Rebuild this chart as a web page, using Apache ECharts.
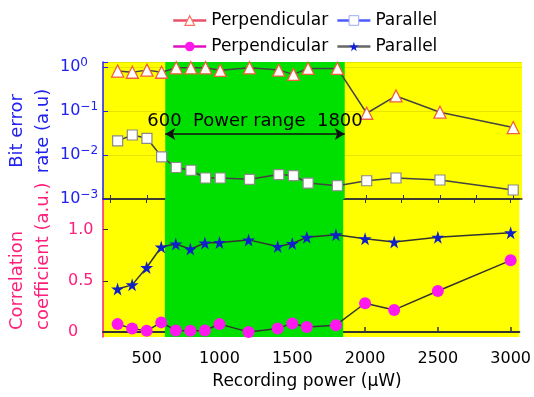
<!DOCTYPE html>
<html><head><meta charset="utf-8">
<script src="https://cdn.jsdelivr.net/npm/echarts@6/dist/echarts.min.js"></script>
<style>html,body{margin:0;padding:0;background:#fff}#c{width:534px;height:397px}</style>
</head><body><div id="c"></div>
<script>
const power = [300,400,500,600,700,800,900,1000,1200,1400,1500,1600,1800,2000,2200,2500,3000];
const berPerp = [0.81,0.76,0.85,0.76,0.96,0.96,0.96,0.84,0.96,0.85,0.68,0.93,0.93,0.089,0.22,0.094,0.042];
const berPara = [0.021,0.0285,0.024,0.0091,0.0052,0.0045,0.0030,0.0030,0.0028,0.0036,0.0034,0.0023,0.0020,0.0026,0.0030,0.0027,0.0016];
const corrPerp = [0.076,0.034,0.01,0.093,0.014,0.01,0.014,0.076,0.0,0.034,0.083,0.047,0.066,0.28,0.215,0.40,0.70];
const corrPara = [0.42,0.46,0.63,0.83,0.86,0.81,0.87,0.875,0.90,0.835,0.865,0.925,0.95,0.91,0.88,0.925,0.97];
const xTickLabels = [500,1000,1500,2000,2500,3000];
const xMinorTicks = [250,500,750,1000,1250,1500,1750,2000,2250,2500,2750,3000];
const corrTicks = [0,0.5,1.0];
const corrTickText = ['0','0.5','1.0'];
const greenRange = [625,1850];
const rangeArrowLevel = 0.03;
const rangeText = '600  Power range  1800';

const FONT = 'DejaVu Sans';
const BLUE = '#2121f0';
const PINK = '#ff1f7a';
const pairs = (xs, ys) => xs.map((x, i) => [x, ys[i]]);
const STAR = 'path://M50,0 L61,35 L98,35 L68,57 L79,91 L50,70 L21,91 L32,57 L2,35 L39,35 Z';

const chart = echarts.init(document.getElementById('c'), null, {renderer: 'canvas'});
const superDigits = e => (e < 0 ? '\u2212' + (-e) : '' + e);

chart.setOption({
  animation: false,
  backgroundColor: '#fff',
  legend: [
    {
      left: 167, top: 7, itemWidth: 33, itemHeight: 12, itemGap: 8,
      formatter: n => n.trim(),
      textStyle: {fontFamily: FONT, fontSize: 17, color: '#000'},
      data: [
        {name: 'Perpendicular', lineStyle: {color: '#e8506a', width: 2.5}, itemStyle: {color: '#fff', borderColor: '#ff7060', borderWidth: 1.2}},
        {name: 'Parallel', lineStyle: {color: '#4a5cff', width: 2.5}, itemStyle: {color: '#fff', borderColor: '#a0a8ff', borderWidth: 1}}
      ]
    },
    {
      left: 167, top: 33, itemWidth: 33, itemHeight: 12, itemGap: 8,
      formatter: n => n.trim(),
      textStyle: {fontFamily: FONT, fontSize: 17, color: '#000'},
      data: [
        {name: 'Perpendicular ', lineStyle: {color: '#e010c0', width: 2.5}, itemStyle: {color: '#ff18ee'}},
        {name: 'Parallel ', lineStyle: {color: '#666', width: 2.5}, itemStyle: {color: '#1020e0'}}
      ]
    }
  ],
  grid: [
    {left: 103, right: 12, top: 62, height: 137, show: true, backgroundColor: '#ffff00', borderWidth: 0},
    {left: 103, right: 12, top: 199, height: 138, show: true, backgroundColor: '#ffff00', borderWidth: 0}
  ],
  xAxis: [
    {gridIndex: 0, type: 'value', min: 200, max: 3060, position: 'bottom',
     axisLine: {show: true, lineStyle: {color: '#333', width: 1.5}},
     axisTick: {show: true, inside: true, length: 4, customValues: xMinorTicks, lineStyle: {color: '#333'}},
     axisLabel: {show: false}, splitLine: {show: false}},
    {gridIndex: 1, type: 'value', min: 200, max: 3060, position: 'bottom',
     axisLine: {show: true, lineStyle: {color: '#333', width: 2}},
     axisTick: {show: true, inside: true, length: 5, customValues: xTickLabels, lineStyle: {color: '#333', width: 1.5}},
     axisLabel: {show: true, customValues: xTickLabels, margin: 14, formatter: v => String(Math.round(v)),
       fontFamily: FONT, fontSize: 16, color: '#000'},
     splitLine: {show: false}},
    {gridIndex: 1, type: 'value', min: 200, max: 3060, position: 'top',
     axisLine: {show: true, lineStyle: {color: '#333', width: 1.5}},
     axisTick: {show: true, inside: true, length: 4, customValues: xMinorTicks, lineStyle: {color: '#333'}},
     axisLabel: {show: false}, splitLine: {show: false}}
  ],
  yAxis: [
    {gridIndex: 0, type: 'log', logBase: 10, min: 0.001, max: 1.3,
     axisLine: {show: true, lineStyle: {color: BLUE, width: 1.5}},
     axisTick: {show: true, inside: true, length: 5, lineStyle: {color: BLUE}},
     splitLine: {show: true, lineStyle: {color: 'rgba(150,150,0,0.25)', width: 1}},
     axisLabel: {
       align: 'left', margin: 43,
       formatter: v => {
         const l = Math.log10(v); const e = Math.round(l);
         if (Math.abs(l - e) > 1e-6) return '';
         return '{b|10}{s|' + superDigits(e) + '}';
       },
       rich: {
         b: {fontFamily: FONT, fontSize: 16, color: BLUE, lineHeight: 20},
         s: {fontFamily: FONT, fontSize: 12, color: BLUE, verticalAlign: 'top', lineHeight: 20}
       }
     }},
    {gridIndex: 1, type: 'value', min: -0.05, max: 1.3,
     axisLine: {show: true, lineStyle: {color: PINK, width: 1.5}},
     axisTick: {show: true, inside: true, length: 5, customValues: corrTicks, lineStyle: {color: '#333'}},
     splitLine: {show: false},
     axisLabel: {align: 'left', margin: 35, customValues: corrTicks,
       formatter: v => corrTickText[corrTicks.indexOf(Math.round(v * 10) / 10)] ?? '',
       fontFamily: FONT, fontSize: 16, color: PINK}}
  ],
  graphic: [
    {type: 'text', x: 30, y: 131, rotation: Math.PI / 2,
     style: {text: 'Bit error\nrate (a.u)', font: '18px "DejaVu Sans"', fill: BLUE, align: 'center', verticalAlign: 'middle', lineHeight: 26}},
    {type: 'text', x: 30, y: 330, rotation: Math.PI / 2,
     style: {text: 'Correlation\ncoefficient (a.u.)', font: '18px "DejaVu Sans"', fill: PINK, align: 'left', verticalAlign: 'middle', lineHeight: 26}},
    {type: 'text', x: 307, y: 382,
     style: {text: 'Recording power (\u00b5W)', font: '17px "DejaVu Sans"', fill: '#000', align: 'center', verticalAlign: 'middle'}}
  ],
  series: [
    {name: 'Perpendicular', type: 'line', xAxisIndex: 0, yAxisIndex: 0, z: 3,
     data: pairs(power, berPerp), symbol: 'triangle', symbolSize: 12,
     itemStyle: {color: '#fff', borderColor: '#f0603c', borderWidth: 1.3},
     lineStyle: {color: '#444', width: 1.5},
     markArea: {silent: true, itemStyle: {color: '#00e000', opacity: 1}, data: [[{xAxis: greenRange[0]}, {xAxis: greenRange[1]}]]},
     markLine: {silent: true, symbol: ['arrow', 'arrow'], symbolSize: [9, 10],
       lineStyle: {color: '#111', width: 1.5, type: 'solid'},
       label: {show: true, position: 'middle', formatter: rangeText, fontFamily: FONT, fontSize: 18, color: '#000', distance: 4},
       data: [[{coord: [greenRange[0], rangeArrowLevel]}, {coord: [greenRange[1], rangeArrowLevel]}]]}},
    {name: 'Parallel', type: 'line', xAxisIndex: 0, yAxisIndex: 0, z: 3,
     data: pairs(power, berPara), symbol: 'rect', symbolSize: 10,
     itemStyle: {color: '#fff', borderColor: '#8a8a8a', borderWidth: 1.2},
     lineStyle: {color: '#444', width: 1.5}},
    {name: 'Perpendicular ', type: 'line', xAxisIndex: 1, yAxisIndex: 1, z: 3,
     data: pairs(power, corrPerp), symbol: 'circle', symbolSize: 12,
     itemStyle: {color: '#ff18ee'},
     lineStyle: {color: '#333', width: 1.5},
     markArea: {silent: true, itemStyle: {color: '#00e000', opacity: 1}, data: [[{xAxis: greenRange[0]}, {xAxis: greenRange[1]}]]}},
    {name: 'Parallel ', type: 'line', xAxisIndex: 1, yAxisIndex: 1, z: 3,
     data: pairs(power, corrPara), symbol: STAR, symbolSize: 13,
     itemStyle: {color: '#1020c8'},
     lineStyle: {color: '#333', width: 1.5}}
  ]
});
</script></body></html>
